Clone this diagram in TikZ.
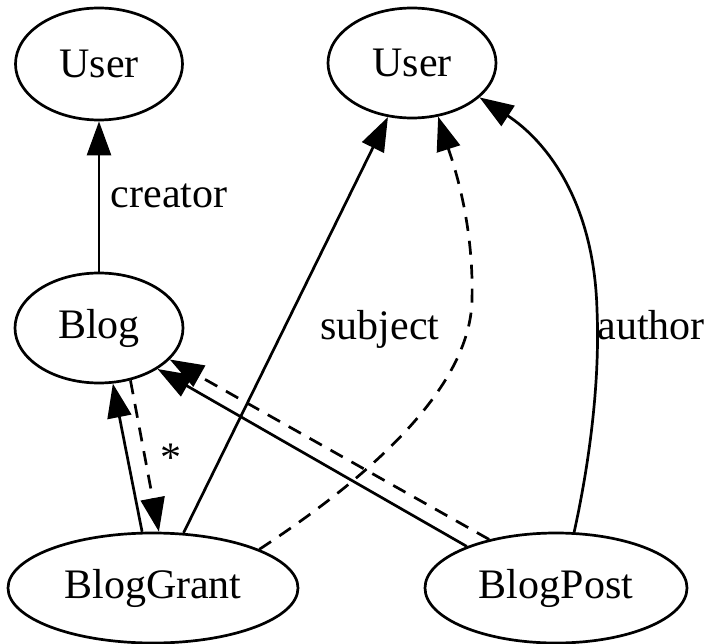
\documentclass[tikz,border=0pt]{standalone}
\usepackage{fontspec}
\setmainfont{Liberation Serif}
\usetikzlibrary{shapes.geometric,arrows.meta}
\begin{document}
\begin{tikzpicture}[x=1pt,y=-1pt,
  ent/.style={ellipse,draw,line width=2.7pt,inner sep=0pt,font=\fontsize{42}{50}\selectfont},
  lbl/.style={anchor=base,inner sep=0pt,font=\fontsize{42}{50}\selectfont},
  conn/.style={line width=2.7pt,-{Triangle[length=34pt,width=24pt]}},
  dsh/.style={dash pattern=on 14pt off 10pt}]
\useasboundingbox (0,0) rectangle (706,644);
\node[ent,minimum width=167pt,minimum height=112pt] (U1) at (99,64) {User};
\node[ent,minimum width=168pt,minimum height=110pt] (U2) at (412,63) {User};
\node[ent,minimum width=168pt,minimum height=110pt] (Blog) at (99,328) {Blog};
\node[ent,minimum width=290pt,minimum height=110pt] (BG) at (153,588) {BlogGrant};
\node[ent,minimum width=262pt,minimum height=110pt] (BP) at (556,588) {BlogPost};

\node[lbl] (lc) at (169,208) {creator};
\node[lbl] (ls) at (380,339) {subject};
\node[lbl] (la) at (651,339) {author};
\node[lbl] (lst) at (171,471) {*};

\draw[conn] (Blog.north) -- (U1.south);
\draw[conn] (BG.101) -- (Blog.-76.5);
\draw[conn,dsh] (Blog.-59) -- (BG.84.6);
\draw[conn] (BG.61.3) -- (U2.-114);
\draw[conn,dsh] (BG.20.8) .. controls (365,480) and (470,390) .. (472,300) .. controls (474,220) and (452,160) .. (U2.-64.7);
\draw[conn] (BP.72.8) .. controls (590,460) and (600,380) .. (597,310) .. controls (594,200) and (545,140) .. (U2.-27);
\draw[conn] (BP.155) -- (Blog.-35.4);
\draw[conn,dsh] (BP.144.8) -- (Blog.-24.3);
\end{tikzpicture}
\end{document}
